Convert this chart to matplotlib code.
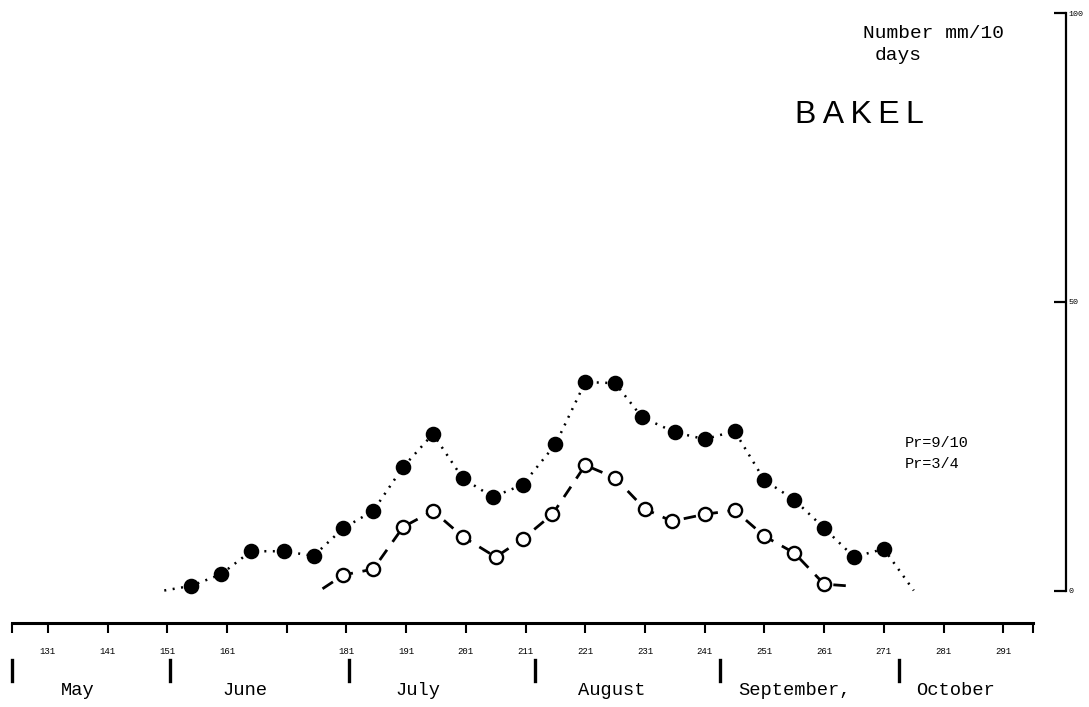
import matplotlib
matplotlib.use("Agg")
import matplotlib.pyplot as plt

# Bakel rainfall, mm per 10 days, centred on day of year
pr34_days = [155, 160, 165, 170.5, 175.5, 180.5, 185.5, 190.5, 195.5, 200.5, 205.5, 210.5,
             216, 221, 226, 230.5, 236, 241, 246, 251, 256, 261, 266, 271]
pr34_mm = [0.8, 2.8, 6.8, 6.8, 6.0, 10.8, 13.8, 21.4, 27.1, 19.4, 16.2, 18.3,
           25.3, 36.1, 35.9, 30.0, 27.4, 26.2, 27.6, 19.1, 15.7, 10.8, 5.8, 7.2]
pr34_start = (150.5, 0.0)
pr34_end = (276.0, 0.0)

pr910_days = [180.5, 185.5, 190.5, 195.5, 200.5, 206, 210.5, 215.5, 221, 226, 231,
              235.5, 241, 246, 251, 256, 261]
pr910_mm = [2.7, 3.7, 11.0, 13.8, 9.3, 5.8, 8.9, 13.2, 21.7, 19.5, 14.1,
            12.0, 13.2, 13.9, 9.4, 6.5, 1.1]
pr910_start = (177.0, 0.3)
pr910_end = (265.0, 0.8)

tick_days = [125, 131, 141, 151, 161, 171, 181, 191, 201, 211, 221, 231, 241, 251, 261, 271, 281, 291, 296]
tick_labels = ["", "131", "141", "151", "161", "", "181", "191", "201", "211", "221",
               "231", "241", "251", "261", "271", "281", "291", ""]

months = ["May", "June", "July", "August", "September,", "October"]
month_starts = [125, 151.5, 181.5, 212.5, 243.5, 273.5]
month_label_days = [136, 164, 193, 225.5, 256, 283]

W, H = 1089, 707
MONO = "Liberation Mono"


def px(x, y):
    return x / W, 1 - y / H


def draw_series(ax, days, mm, start, end, line_style, lw, marker_face):
    xs = [start[0]] + days + [end[0]]
    ys = [start[1]] + mm + [end[1]]
    ax.plot(xs, ys, color="black", linestyle=line_style, lw=lw, clip_on=False, zorder=2)
    ax.plot(days, mm, linestyle="none", marker="o", markersize=9.5,
            markerfacecolor=marker_face, markeredgecolor="black", markeredgewidth=1.7,
            clip_on=False, zorder=3)


def main():
    fig = plt.figure(figsize=(W / 100, H / 100), dpi=100)
    ax = fig.add_axes([12 / W, 116.5 / H, 1054 / W, 577.5 / H])
    ax.set_xlim(125, 301.5)
    ax.set_ylim(0, 100)

    ax.spines["top"].set_visible(False)
    ax.spines["left"].set_visible(False)
    ax.spines["bottom"].set_position(("data", -5.6))
    ax.spines["bottom"].set_bounds(125, 296)
    ax.spines["bottom"].set_linewidth(2.2)
    ax.spines["right"].set_bounds(0, 100)
    ax.spines["right"].set_linewidth(1.6)

    ax.yaxis.tick_right()
    ax.set_yticks([0, 50, 100])
    ax.set_yticklabels(["0", "50", "100"], family=MONO)
    ax.tick_params(axis="y", direction="in", length=9, width=1.6, labelsize=6, pad=2)

    ax.set_xticks(tick_days)
    ax.set_xticklabels(tick_labels, family=MONO)
    ax.tick_params(axis="x", direction="out", length=7.5, width=1.5, labelsize=6.5, pad=10)

    draw_series(ax, pr34_days, pr34_mm, pr34_start, pr34_end, (0, (0.8, 2.6)), 1.8, "black")
    draw_series(ax, pr910_days, pr910_mm, pr910_start, pr910_end, (0, (4.5, 3.5)), 2.0, "white")

    # month boundaries and names under the day axis
    for d in month_starts:
        ax.plot([d, d], [-12.0, -15.6], color="black", lw=2.4, clip_on=False)
    for name, d in zip(months, month_label_days):
        ax.text(d, -17.3, name, ha="center", va="center", fontsize=13.5, family=MONO)

    fig.text(*px(863, 33), "Number mm/10", ha="left", va="center", fontsize=14, family=MONO)
    fig.text(*px(875, 56), "days", ha="left", va="center", fontsize=14, family=MONO)
    fig.text(*px(795, 115), "B\u2009A\u2009K\u2009E\u2009L", ha="left", va="center",
             fontsize=23, family="Liberation Sans")
    fig.text(*px(905, 443), "Pr=9/10", ha="left", va="center", fontsize=11, family=MONO)
    fig.text(*px(905, 464), "Pr=3/4", ha="left", va="center", fontsize=11, family=MONO)

    fig.savefig("out.png", dpi=100, facecolor="white")


if __name__ == "__main__":
    main()
